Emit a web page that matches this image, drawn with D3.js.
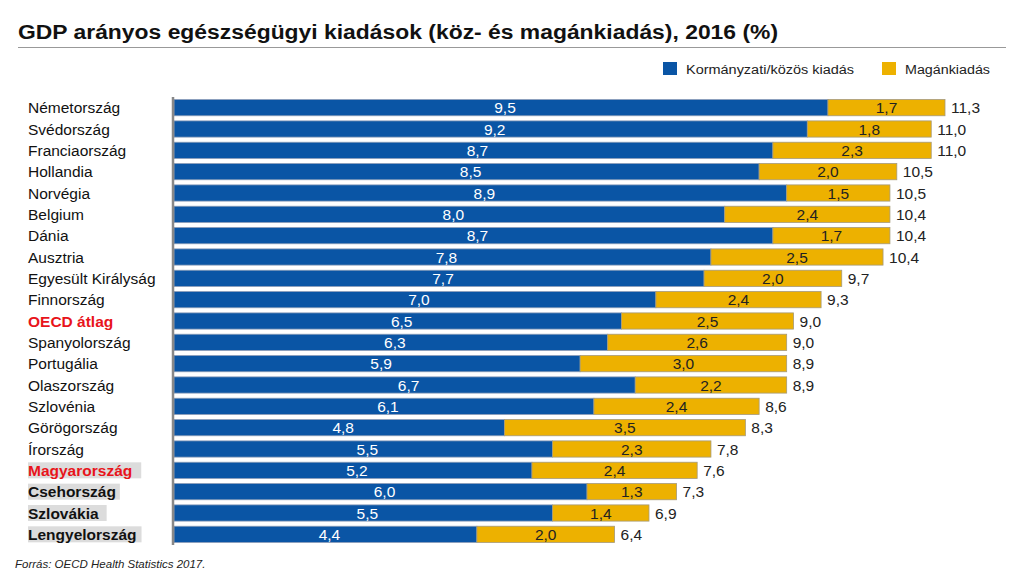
<!DOCTYPE html>
<html><head><meta charset="utf-8">
<script src="https://cdn.jsdelivr.net/npm/d3@7"></script>
<style>body{margin:0;background:#fff;}svg{display:block;font-family:"Liberation Sans",Arial,sans-serif;}</style>
</head><body><svg id="c" width="1024" height="576"></svg>
<script>
const countries = ["Németország","Svédország","Franciaország","Hollandia","Norvégia","Belgium","Dánia","Ausztria","Egyesült Királyság","Finnország","OECD átlag","Spanyolország","Portugália","Olaszország","Szlovénia","Görögország","Írország","Magyarország","Csehország","Szlovákia","Lengyelország"];
const gov = [9.5,9.2,8.7,8.5,8.9,8.0,8.7,7.8,7.7,7.0,6.5,6.3,5.9,6.7,6.1,4.8,5.5,5.2,6.0,5.5,4.4];
const priv = [1.7,1.8,2.3,2.0,1.5,2.4,1.7,2.5,2.0,2.4,2.5,2.6,3.0,2.2,2.4,3.5,2.3,2.4,1.3,1.4,2.0];
const totals = [11.3,11.0,11.0,10.5,10.5,10.4,10.4,10.4,9.7,9.3,9.0,9.0,8.9,8.9,8.6,8.3,7.8,7.6,7.3,6.9,6.4];
const seriesNames = ["Kormányzati/közös kiadás","Magánkiadás"];
const redLabels = ["OECD átlag","Magyarország"];
const boldLabels = ["OECD átlag","Magyarország","Csehország","Szlovákia","Lengyelország"];
const shadedLabels = ["Magyarország","Csehország","Szlovákia","Lengyelország"];

const BLUE="#0a55a5", YELLOW="#edb100";
const fmt = v => v.toFixed(1).replace(".", ",");
const svg = d3.select("#c");

// title
svg.append("text").attr("x",18).attr("y",39).attr("font-size",20).attr("font-weight","bold").attr("fill","#111")
  .attr("textLength",760).attr("lengthAdjust","spacingAndGlyphs")
  .text("GDP arányos egészségügyi kiadások (köz- és magánkiadás), 2016 (%)");
svg.append("line").attr("x1",18).attr("x2",1006).attr("y1",47.5).attr("y2",47.5).attr("stroke","#999").attr("stroke-width",1.2);

// legend
const leg = [{x:663,c:BLUE,t:seriesNames[0],w:168},{x:882,c:YELLOW,t:seriesNames[1],w:85}];
leg.forEach(l=>{
  svg.append("rect").attr("x",l.x).attr("y",62).attr("width",14).attr("height",13).attr("fill",l.c);
  svg.append("text").attr("x",l.x+23).attr("y",74).attr("font-size",12.5).attr("fill","#222")
    .attr("textLength",l.w).attr("lengthAdjust","spacingAndGlyphs").text(l.t);
});

const x = d3.scaleLinear().domain([0,11.2]).range([174,945]);
const y = d3.scaleBand().domain(countries).range([97,545]).paddingInner(0.24).paddingOuter(0.12);
const bh = y.bandwidth();
const FS = 15.5;

// category labels
const shadePad = {"Magyarország":9,"Csehország":4,"Szlovákia":8,"Lengyelország":5};
countries.forEach(c=>{
  const cy = y(c)+bh/2;
  const bg = svg.append("g");
  const t = svg.append("text").attr("x",28).attr("y",cy+5.5).attr("font-size",FS)
    .attr("font-weight",boldLabels.includes(c)?"bold":"normal")
    .attr("fill",redLabels.includes(c)?"#e8141b":"#111").text(c);
  if (shadedLabels.includes(c)) {
    const w = t.node().getComputedTextLength();
    bg.append("rect").attr("x",28).attr("y",cy-8).attr("width",w+shadePad[c]).attr("height",16).attr("fill","#dcdcdc");
  }
});

// bars
const g = svg.append("g");
countries.forEach((c,i)=>{
  const yy = y(c);
  g.append("rect").attr("x",x(0)).attr("y",yy).attr("width",x(gov[i])-x(0)).attr("height",bh)
    .attr("fill",BLUE).attr("stroke","#8a9cb8").attr("stroke-width",0.8);
  g.append("rect").attr("x",x(gov[i])).attr("y",yy).attr("width",x(gov[i]+priv[i])-x(gov[i])).attr("height",bh)
    .attr("fill",YELLOW).attr("stroke","#a59a7a").attr("stroke-width",0.8);
  g.append("text").attr("x",(x(0)+x(gov[i]))/2+4).attr("y",yy+bh/2+5.5).attr("text-anchor","middle")
    .attr("font-size",FS).attr("fill","#fff").text(fmt(gov[i]));
  g.append("text").attr("x",(x(gov[i])+x(gov[i]+priv[i]))/2).attr("y",yy+bh/2+5.5).attr("text-anchor","middle")
    .attr("font-size",FS).attr("fill","#222").text(fmt(priv[i]));
  g.append("text").attr("x",x(gov[i]+priv[i])+6).attr("y",yy+bh/2+5.5)
    .attr("font-size",FS).attr("fill","#222").text(fmt(totals[i]));
});

// axis line
svg.append("line").attr("x1",173).attr("x2",173).attr("y1",97).attr("y2",545).attr("stroke","#888").attr("stroke-width",2.5);

// source
svg.append("text").attr("x",15).attr("y",568).attr("font-size",11.5).attr("font-style","italic").attr("fill","#222")
  .text("Forrás: OECD Health Statistics 2017.");
</script></body></html>
